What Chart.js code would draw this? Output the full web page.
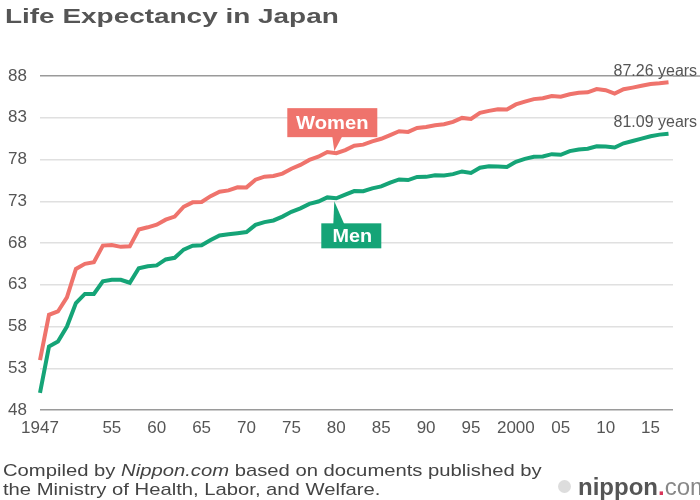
<!DOCTYPE html>
<html>
<head>
<meta charset="utf-8">
<script src="https://cdn.jsdelivr.net/npm/chart.js@4.4.1/dist/chart.umd.min.js"></script>
<style>
  html, body { margin:0; padding:0; background:#fff; }
  #wrap { position:relative; width:700px; height:500px; overflow:hidden; font-family:"Liberation Sans", Arial, sans-serif; }
  #c { position:absolute; left:0; top:0; }
  .t { position:absolute; white-space:nowrap; color:#555; transform-origin:left center; }
  #title { left:5px; top:4px; font-size:21px; line-height:24px; font-weight:bold; color:#555; transform:scaleX(1.33); }
  #f1 { left:3px; top:461px; font-size:17px; line-height:20px; color:#444; transform:scaleX(1.19); }
  #f2 { left:3px; top:480px; font-size:17px; line-height:20px; color:#444; transform:scaleX(1.19); }
  #logo { left:558px; top:473px; font-size:24px; font-weight:bold; color:#555; }
  #logo .dot { color:#d9365a; }
  #logo .com { color:#888; font-weight:normal; }
  #logo .circ { display:inline-block; width:13px; height:13px; border-radius:50%; background:#ddd; margin-right:7px; vertical-align:middle; position:relative; top:-2px; }
</style>
</head>
<body>
<div id="wrap">
  <canvas id="c" width="700" height="500"></canvas>
  <div class="t" id="title">Life Expectancy in Japan</div>
  <div class="t" id="f1">Compiled by <i>Nippon.com</i> based on documents published by</div>
  <div class="t" id="f2">the Ministry of Health, Labor, and Welfare.</div>
  <div class="t" id="logo"><span class="circ"></span>nippon<span class="dot">.</span><span class="com">com</span></div>
</div>
<script>
const years = [1947,1948,1949,1950,1951,1952,1953,1954,1955,1956,1957,1958,1959,1960,1961,1962,1963,1964,1965,1966,1967,1968,1969,1970,1971,1972,1973,1974,1975,1976,1977,1978,1979,1980,1981,1982,1983,1984,1985,1986,1987,1988,1989,1990,1991,1992,1993,1994,1995,1996,1997,1998,1999,2000,2001,2002,2003,2004,2005,2006,2007,2008,2009,2010,2011,2012,2013,2014,2015,2016,2017];
const women = [53.96,59.4,59.8,61.5,64.9,65.5,65.7,67.69,67.75,67.54,67.6,69.61,69.88,70.19,70.79,71.16,72.34,72.87,72.92,73.61,74.15,74.3,74.67,74.66,75.58,75.94,76.02,76.31,76.89,77.35,77.95,78.33,78.89,78.76,79.13,79.66,79.78,80.18,80.48,80.93,81.39,81.3,81.77,81.9,82.11,82.22,82.51,82.98,82.85,83.59,83.82,84.01,83.99,84.6,84.93,85.23,85.33,85.59,85.52,85.81,85.99,86.05,86.44,86.3,85.9,86.41,86.61,86.83,87.05,87.14,87.26];
const men = [50.06,55.6,56.2,58.0,60.8,61.9,61.9,63.41,63.6,63.59,63.24,64.98,65.21,65.32,66.03,66.23,67.21,67.67,67.74,68.35,68.91,69.05,69.18,69.31,70.17,70.5,70.7,71.16,71.73,72.15,72.69,72.97,73.46,73.35,73.79,74.22,74.2,74.54,74.78,75.23,75.61,75.54,75.91,75.92,76.11,76.09,76.25,76.57,76.38,77.01,77.19,77.16,77.1,77.72,78.07,78.32,78.36,78.64,78.56,79.0,79.19,79.29,79.59,79.55,79.44,79.94,80.21,80.5,80.79,80.98,81.09];
const xTickValues = [1947,1955,1960,1965,1970,1975,1980,1985,1990,1995,2000,2005,2010,2015];
const xTickLabels = ["1947","55","60","65","70","75","80","85","90","95","2000","05","10","15"];
const yTicks = [48,53,58,63,68,73,78,83,88];
const endLabels = ["87.26 years","81.09 years"];
const seriesNames = ["Women","Men"];
const calloutYear = 1980;

const WOMEN_COLOR = '#ef736c';
const MEN_COLOR = '#15a477';
const FONT = '"Liberation Sans", Arial, sans-serif';

function stretchedText(ctx, text, cx, cy, sx){
  ctx.save();
  ctx.translate(cx, cy);
  ctx.scale(sx, 1);
  ctx.fillText(text, 0, 0);
  ctx.restore();
}

const annot = {
  id:'annot',
  afterDraw(chart){
    const ctx = chart.ctx, xs = chart.scales.x, ys = chart.scales.y, ca = chart.chartArea;
    ctx.save();
    // extend top gridline
    ctx.strokeStyle = '#9a9a9a'; ctx.lineWidth = 1.5;
    ctx.beginPath(); ctx.moveTo(ca.right, ys.getPixelForValue(88)); ctx.lineTo(700, ys.getPixelForValue(88)); ctx.stroke();
    // end labels
    ctx.fillStyle = '#555'; ctx.font = '16px ' + FONT;
    ctx.textBaseline = 'alphabetic'; ctx.textAlign = 'left';
    const lx = xs.getPixelForValue(years[years.length-1]);
    ctx.fillText(endLabels[0], lx - 55, ys.getPixelForValue(women[women.length-1]) - 6);
    ctx.fillText(endLabels[1], lx - 55, ys.getPixelForValue(men[men.length-1]) - 7);
    // callouts
    const i = years.indexOf(calloutYear);
    const px = xs.getPixelForValue(calloutYear);
    const wy = ys.getPixelForValue(women[i]);
    const my = ys.getPixelForValue(men[i]);
    // Women box
    ctx.fillStyle = WOMEN_COLOR;
    const wb = {x: px - 49, y: wy - 45, w: 90, h: 29};
    ctx.fillRect(wb.x, wb.y, wb.w, wb.h);
    ctx.beginPath(); ctx.moveTo(px - 4, wb.y + wb.h - 1); ctx.lineTo(px + 6, wb.y + wb.h - 1); ctx.lineTo(px - 2, wy - 2); ctx.closePath(); ctx.fill();
    ctx.fillStyle = '#fff'; ctx.font = 'bold 18px ' + FONT;
    ctx.textAlign = 'center'; ctx.textBaseline = 'middle';
    stretchedText(ctx, seriesNames[0], wb.x + wb.w/2, wb.y + wb.h/2 + 1, 1.12);
    // Men box
    ctx.fillStyle = MEN_COLOR;
    const mb = {x: px - 15, y: my + 25, w: 60, h: 25};
    ctx.fillRect(mb.x, mb.y, mb.w, mb.h);
    ctx.beginPath(); ctx.moveTo(px - 3, mb.y + 1); ctx.lineTo(px + 8, mb.y + 1); ctx.lineTo(px - 2, my + 3); ctx.closePath(); ctx.fill();
    ctx.fillStyle = '#fff';
    stretchedText(ctx, seriesNames[1], mb.x + mb.w/2 + 1, mb.y + mb.h/2 + 1, 1.1);
    ctx.restore();
  }
};

new Chart(document.getElementById('c'), {
  type: 'line',
  data: {
    datasets: [
      { label: seriesNames[0], data: years.map((y,k)=>({x:y, y:women[k]})), borderColor: WOMEN_COLOR, borderWidth: 4, pointRadius: 0, tension: 0, clip: false },
      { label: seriesNames[1], data: years.map((y,k)=>({x:y, y:men[k]})), borderColor: MEN_COLOR, borderWidth: 4, pointRadius: 0, tension: 0, clip: false }
    ]
  },
  options: {
    responsive: false,
    animation: false,
    events: [],
    layout: { padding: { left: 0, top: 76, right: 27, bottom: 0 } },
    plugins: { legend: { display: false }, tooltip: { enabled: false }, title: { display: false } },
    scales: {
      x: {
        type: 'linear', min: 1947, max: 2017.5,
        afterBuildTicks(s){ s.ticks = xTickValues.map(v=>({value:v})); },
        afterFit(s){ s.height = 90; },
        grid: { display: false, drawTicks: false },
        border: { display: false },
        ticks: {
          autoSkip: false, maxRotation: 0, padding: 8,
          color: '#555', font: { family: FONT, size: 17 },
          callback(v){ const k = xTickValues.indexOf(v); return k >= 0 ? xTickLabels[k] : ''; }
        }
      },
      y: {
        min: 48, max: 88,
        afterBuildTicks(s){ s.ticks = yTicks.map(v=>({value:v})); },
        afterFit(s){ s.width = 40; },
        grid: {
          drawTicks: false, lineWidth: 1.5,
          color(ctx){ const v = ctx.tick && ctx.tick.value; return (v === 48 || v === 88) ? '#9a9a9a' : '#e0e0e0'; }
        },
        border: { display: false },
        ticks: { padding: 13, color: '#555', font: { family: FONT, size: 17 } }
      }
    }
  },
  plugins: [annot]
});
</script>
</body>
</html>
